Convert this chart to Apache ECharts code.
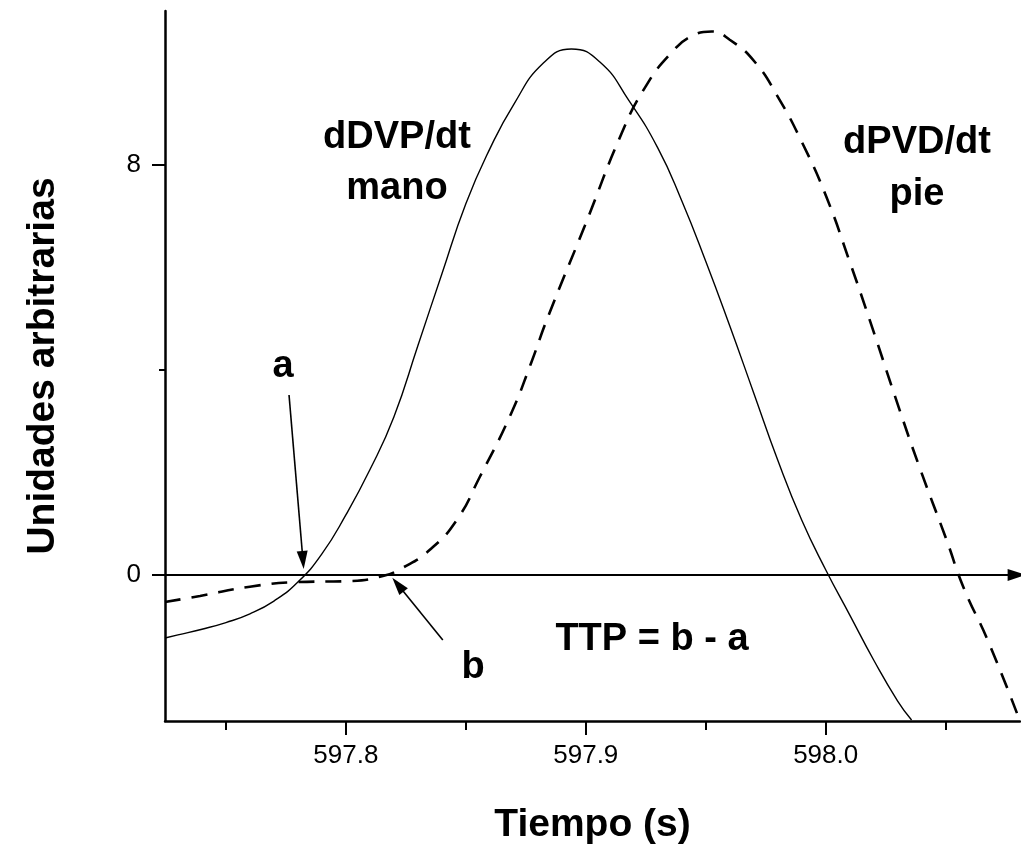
<!DOCTYPE html>
<html><head><meta charset="utf-8">
<script src="https://cdn.jsdelivr.net/npm/echarts@6/dist/echarts.min.js"></script>
<style>html,body{margin:0;padding:0;background:#fff}#c{width:1021px;height:850px}</style>
</head><body><div id="c"></div>
<script>
// dDVP/dt mano (solid)
const xSolid = [597.7246,597.73,597.74,597.75,597.76,597.77,597.78,597.79,597.80,597.81,597.82,597.83,597.84,597.85,597.86,597.87,597.882,597.894,597.906,597.918,597.93,597.94,597.95,597.96,597.97,597.98,597.99,598.00,598.01,598.02,598.03,598.0358];
const ySolid = [-1.23,-1.17,-1.06,-0.93,-0.76,-0.51,-0.14,0.41,1.17,2.05,3.08,4.47,5.87,7.24,8.31,9.18,9.97,10.26,10.00,9.25,8.33,7.30,6.12,4.86,3.55,2.24,1.07,0.10,-0.78,-1.66,-2.46,-2.83];
// dPVD/dt pie (dashed)
const xDashed = [597.7246,597.7392,597.7600,597.7796,597.8017,597.8154,597.8237,597.8350,597.8462,597.8558,597.8688,597.8771,597.8842,597.8996,597.9150,597.9246,597.9350,597.9446,597.9525,597.9600,597.9704,597.9800,597.9900,598.0004,598.0100,598.0183,598.0308,598.0392,598.0504,598.0575,598.0675,598.0800];
const yDashed = [-0.53,-0.41,-0.23,-0.14,-0.12,-0.02,0.14,0.49,1.07,1.91,3.14,4.12,5.03,6.81,8.62,9.50,10.15,10.52,10.60,10.44,10.01,9.33,8.45,7.36,6.11,4.98,3.22,2.09,0.68,-0.25,-1.27,-2.73];

const xMajor = [597.8, 597.9, 598.0];
const xMinor = [597.75, 597.85, 597.95, 598.05];
const yMajor = [0, 8];
const yMinor = [4];
const xMin = 597.7246, xMax = 598.081, yMin = -2.85, yMax = 11.0;

// annotation arrows (data coordinates)
const arrowA = [[597.7763, 3.51], [597.7821, 0.29]];
const arrowB = [[597.8404, -1.27], [597.8217, -0.19]];
const zeroLine = [[xMin, 0], [598.0796, 0]];

const FONT = "'Liberation Sans', Arial, sans-serif";
const chart = echarts.init(document.getElementById('c'));
const pairs = (xs, ys) => xs.map((x, i) => [x, ys[i]]);

const txt = (t, x, y) => ({
  type: 'text', x: x, y: y,
  style: { text: t, font: 'bold 38px ' + FONT, fill: '#000', textAlign: 'center', textVerticalAlign: 'middle' }
});

chart.setOption({
  animation: false,
  backgroundColor: '#fff',
  grid: { left: 165, top: 11, width: 855, height: 710, containLabel: false },
  xAxis: [{
    type: 'value', min: xMin, max: xMax, position: 'bottom',
    name: 'Tiempo (s)', nameLocation: 'middle', nameGap: 85,
    nameTextStyle: { fontFamily: FONT, fontWeight: 'bold', fontSize: 39, color: '#000' },
    axisLine: { show: true, onZero: false, lineStyle: { color: '#000', width: 2.5 } },
    axisTick: { show: true, customValues: xMajor, length: 14, inside: false, lineStyle: { color: '#000', width: 2 } },
    axisLabel: { show: true, customValues: xMajor, margin: 22, fontFamily: FONT, fontSize: 26, color: '#000',
      formatter: v => Number(v).toFixed(1) },
    splitLine: { show: false }
  }, {
    type: 'value', min: xMin, max: xMax, position: 'bottom',
    axisLine: { show: false, onZero: false },
    axisTick: { show: true, customValues: xMinor, length: 9, lineStyle: { color: '#000', width: 2 } },
    axisLabel: { show: false },
    splitLine: { show: false }
  }],
  yAxis: [{
    type: 'value', min: yMin, max: yMax, position: 'left',
    name: 'Unidades arbitrarias', nameLocation: 'middle', nameGap: 102, nameRotate: 90,
    nameTextStyle: { fontFamily: FONT, fontWeight: 'bold', fontSize: 39, color: '#000' },
    axisLine: { show: true, onZero: false, lineStyle: { color: '#000', width: 2.5 } },
    axisTick: { show: true, customValues: yMajor, length: 13, lineStyle: { color: '#000', width: 2 } },
    axisLabel: { show: true, customValues: yMajor, margin: 24, fontFamily: FONT, fontSize: 26, color: '#000' },
    splitLine: { show: false }
  }, {
    type: 'value', min: yMin, max: yMax, position: 'left',
    axisLine: { show: false, onZero: false },
    axisTick: { show: true, customValues: yMinor, length: 6, lineStyle: { color: '#000', width: 2 } },
    axisLabel: { show: false },
    splitLine: { show: false }
  }],
  series: [{
    name: 'dDVP/dt mano', type: 'line', data: pairs(xSolid, ySolid),
    smooth: 0.5, showSymbol: false, symbol: 'none',
    lineStyle: { color: '#000', width: 1.4 },
    markLine: {
      silent: true, symbol: ['none', 'triangle'], symbolSize: [12, 18], label: { show: false },
      lineStyle: { color: '#000', width: 2, type: 'solid' },
      data: [
        [{ coord: zeroLine[0] }, { coord: zeroLine[1] }]
      ]
    }
  }, {
    name: 'dPVD/dt pie', type: 'line', data: pairs(xDashed, yDashed),
    smooth: 0.5, showSymbol: false, symbol: 'none',
    lineStyle: { color: '#000', width: 2.6, type: [16, 11] },
    markLine: {
      silent: true, symbol: ['none', 'triangle'], symbolSize: [11, 18], label: { show: false },
      lineStyle: { color: '#000', width: 1.6, type: 'solid' },
      data: [
        [{ coord: arrowA[0] }, { coord: arrowA[1] }],
        [{ coord: arrowB[0] }, { coord: arrowB[1] }]
      ]
    }
  }],
  graphic: [
    txt('dDVP/dt', 397, 138),
    txt('mano', 397, 189),
    txt('dPVD/dt', 917, 143),
    txt('pie', 917, 195),
    txt('a', 283, 367),
    txt('b', 473, 668),
    txt('TTP = b - a', 652, 640)
  ]
});
</script>
</body></html>
